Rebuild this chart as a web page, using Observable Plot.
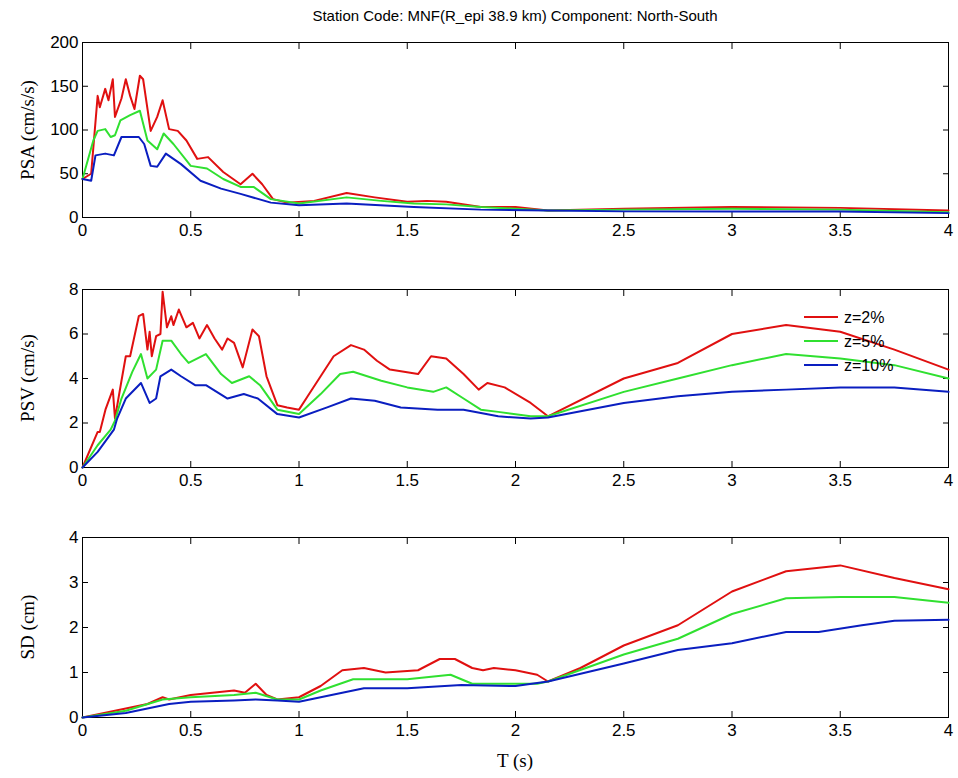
<!DOCTYPE html>
<html><head><meta charset="utf-8">
<script src="https://cdn.jsdelivr.net/npm/d3@7"></script>
<script src="https://cdn.jsdelivr.net/npm/@observablehq/plot@0.6"></script>
<style>
body{margin:0;background:#fff;width:958px;height:778px;position:relative;overflow:hidden;font-family:"Liberation Sans",Arial,sans-serif}
.p{position:absolute;left:0}
#title{position:absolute;top:7px;left:82px;width:866px;text-align:center;font-size:15px}
#xl{position:absolute;top:750px;left:82px;width:866px;text-align:center;font-family:"Liberation Serif",serif;font-size:19px}
</style></head><body>
<div id="title">Station Code: MNF(R_epi 38.9 km) Component: North-South</div>
<div id="p1" class="p" style="top:32px"></div>
<div id="p2" class="p" style="top:279px"></div>
<div id="p3" class="p" style="top:527px"></div>
<div id="xl">T (s)</div>
<script>
const series = ["z=2%","z=5%","z=10%"];
const colors = ["#e01010","#30e030","#0a1ec0"];
// PSA
const psaT2=[0,.04,.07,.08,.105,.12,.14,.15,.18,.2,.22,.24,.265,.28,.315,.345,.37,.4,.44,.48,.53,.58,.65,.73,.785,.83,.88,.945,1.07,1.22,1.35,1.5,1.59,1.68,1.84,2.0,2.15,2.5,3.0,3.5,4.0];
const psaV2=[44,50,139,126,147,134,158,115,136,158,139,124,162,158,99,115,134,101,99,88,67,69,52,38,50,38,21,17,19,28,23,18,19,18,12,12,8,10,12,11,8];
const psaT5=[0,.05,.07,.105,.13,.15,.175,.22,.265,.3,.345,.375,.42,.5,.575,.65,.73,.79,.87,1.0,1.22,1.38,1.53,1.68,1.84,2.0,2.15,2.5,3.0,3.5,4.0];
const psaV5=[44,88,99,101,92,94,111,117,122,88,78,96,84,59,56,44,35,35,21,16,23,19,16,15,12,10,8,9,10,9,6];
const psaT10=[0,.04,.06,.105,.145,.18,.26,.285,.315,.345,.385,.455,.545,.64,.73,.87,1.0,1.22,1.53,1.84,2.15,2.5,3.0,3.5,4.0];
const psaV10=[44,42,71,73,71,92,92,84,59,58,73,61,42,33,27,17,14,16,12,9,8,7,7,7,5];
// PSV
const psvT2=[0,.07,.08,.106,.14,.15,.18,.2,.22,.26,.28,.3,.31,.32,.34,.36,.37,.39,.41,.42,.445,.48,.51,.54,.575,.61,.645,.67,.70,.74,.785,.815,.85,.9,.945,1.0,1.04,1.1,1.16,1.24,1.3,1.36,1.42,1.55,1.61,1.68,1.76,1.83,1.87,1.95,2.07,2.15,2.5,2.75,3.0,3.25,3.5,3.75,4.0];
const psvV2=[0,1.6,1.6,2.6,3.5,2.2,3.9,5.0,5.0,6.8,6.9,5.3,6.1,5.0,5.9,6.0,7.9,6.3,6.8,6.4,7.1,6.3,6.5,5.8,6.4,5.8,5.3,5.8,5.6,4.5,6.2,5.9,4.1,2.8,2.7,2.6,3.2,4.1,5.0,5.5,5.3,4.8,4.4,4.2,5.0,4.9,4.2,3.5,3.8,3.6,2.9,2.3,4.0,4.7,6.0,6.4,6.1,5.3,4.4];
const psvT5=[0,.07,.13,.15,.18,.23,.27,.3,.34,.37,.41,.455,.49,.57,.64,.69,.77,.82,.9,1.0,1.1,1.19,1.25,1.38,1.5,1.62,1.68,1.76,1.84,1.92,2.07,2.15,2.5,2.75,3.0,3.25,3.5,3.75,4.0];
const psvV5=[0,1.0,1.7,2.1,3.1,4.3,5.1,4.0,4.4,5.7,5.7,5.1,4.7,5.1,4.2,3.8,4.1,3.7,2.6,2.4,3.3,4.2,4.3,3.9,3.6,3.4,3.6,3.1,2.6,2.5,2.3,2.3,3.4,4.0,4.6,5.1,4.9,4.6,4.0];
const psvT10=[0,.07,.145,.16,.2,.27,.31,.34,.36,.41,.455,.52,.57,.67,.745,.81,.9,1.0,1.13,1.24,1.35,1.47,1.64,1.76,1.92,2.07,2.15,2.5,2.75,3.0,3.25,3.5,3.75,4.0];
const psvV10=[0,.7,1.7,2.2,3.1,3.8,2.9,3.1,4.1,4.4,4.1,3.7,3.7,3.1,3.3,3.1,2.4,2.25,2.7,3.1,3.0,2.7,2.6,2.6,2.3,2.2,2.25,2.9,3.2,3.4,3.5,3.6,3.6,3.4];
// SD
const sdT2=[0,.2,.3,.37,.4,.5,.6,.7,.75,.8,.85,.9,1.0,1.1,1.2,1.3,1.4,1.55,1.65,1.72,1.8,1.85,1.9,2.0,2.1,2.15,2.3,2.5,2.75,3.0,3.25,3.5,3.75,4.0];
const sdV2=[0,.2,.3,.45,.4,.5,.55,.6,.55,.75,.5,.4,.45,.7,1.05,1.1,1.0,1.05,1.3,1.3,1.1,1.05,1.1,1.05,.95,.8,1.1,1.6,2.05,2.8,3.25,3.38,3.1,2.85];
const sdT5=[0,.2,.37,.5,.7,.8,.9,1.0,1.1,1.25,1.5,1.7,1.8,1.9,2.1,2.15,2.5,2.75,3.0,3.25,3.5,3.75,4.0];
const sdV5=[0,.15,.4,.45,.5,.55,.4,.4,.6,.85,.85,.95,.75,.75,.75,.8,1.4,1.75,2.3,2.65,2.68,2.68,2.55];
const sdT10=[0,.2,.4,.5,.7,.8,.9,1.0,1.2,1.3,1.5,1.75,2.0,2.15,2.5,2.75,3.0,3.25,3.4,3.6,3.75,4.0];
const sdV10=[0,.1,.3,.35,.38,.4,.38,.35,.55,.65,.65,.72,.7,.8,1.2,1.5,1.65,1.9,1.9,2.05,2.15,2.17];
const xTicks=[0,.5,1,1.5,2,2.5,3,3.5,4];

function rows(Ts,Vs){return Ts.flatMap((T,i)=>T.map((t,j)=>({T:t,v:Vs[i][j],s:series[i]})));}
function panel(el,data,ymax,yticks,label,h){
  const chart=Plot.plot({
    width:958,height:h+40,marginLeft:82,marginRight:10,marginTop:10,marginBottom:30,
    style:{fontFamily:"Liberation Sans, Arial, sans-serif",fontSize:"16px",color:"#000"},
    x:{domain:[0,4]},
    y:{domain:[0,ymax]},
    color:{domain:series,range:colors},
    marks:[
      Plot.frame({stroke:"#000",strokeWidth:1}),
      Plot.axisX({ticks:xTicks,tickSize:-6,tickFormat:d=>String(d),tickPadding:12,label:null,fontSize:17}),
      Plot.axisX({ticks:xTicks,anchor:"top",tickSize:-6,tickFormat:()=>"",label:null}),
      Plot.axisY({ticks:yticks,tickSize:-6,tickPadding:10,tickFormat:d=>String(d),label:null,fontSize:17}),
      Plot.axisY({ticks:yticks,anchor:"right",tickSize:-6,tickFormat:()=>"",label:null}),
      Plot.line(data,{x:"T",y:"v",stroke:"s",z:"s",strokeWidth:2,curve:"linear"})
    ]
  });
  const d=document.getElementById(el);
  d.appendChild(chart);
  const lab=document.createElement("div");
  lab.textContent=label;
  lab.style.cssText=`position:absolute;left:8px;top:${10+h/2}px;transform:translate(-50%,-50%) rotate(-90deg);transform-origin:center;white-space:nowrap;font-family:'Liberation Serif',serif;font-size:19px;margin-left:20px`;
  d.appendChild(lab);
}
panel("p1",rows([psaT2,psaT5,psaT10],[psaV2,psaV5,psaV10]),200,[0,50,100,150,200],"PSA (cm/s/s)",175);
panel("p2",rows([psvT2,psvT5,psvT10],[psvV2,psvV5,psvV10]),8,[0,2,4,6,8],"PSV (cm/s)",178);
panel("p3",rows([sdT2,sdT5,sdT10],[sdV2,sdV5,sdV10]),4,[0,1,2,3,4],"SD (cm)",180);
// legend
const lg=d3.select("#p2").append("svg").attr("width",140).attr("height",76)
  .style("position","absolute").style("left","800px").style("top","24px");
series.forEach((s,i)=>{
  lg.append("line").attr("x1",4).attr("x2",38).attr("y1",14+i*24).attr("y2",14+i*24).attr("stroke",colors[i]).attr("stroke-width",2);
  lg.append("text").attr("x",44).attr("y",20+i*24).text(s).style("font-size","16px").style("font-family","Liberation Sans, Arial, sans-serif");
});
</script></body></html>
